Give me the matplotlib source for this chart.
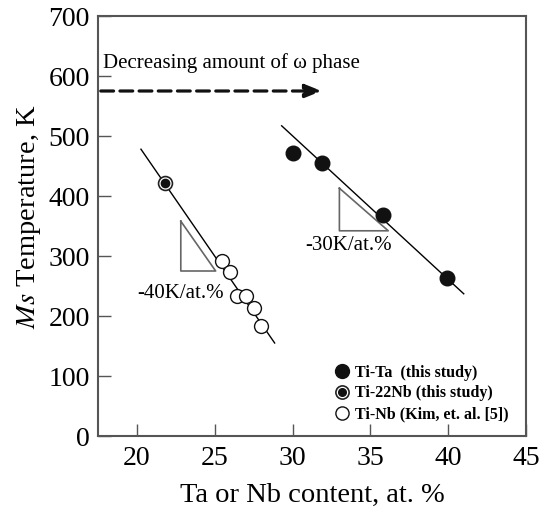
import matplotlib.pyplot as plt
from matplotlib.legend_handler import HandlerTuple
from matplotlib.lines import Line2D

plt.rcParams['font.family'] = ['Liberation Serif', 'DejaVu Serif']
plt.rcParams['mathtext.fontset'] = 'stix'

# data
ta_x = [30.0, 31.9, 35.8, 39.9]
ta_ms = [471, 455, 368, 263]
nb22_x = [21.8]
nb22_ms = [422]
kim_x = [25.45, 25.95, 26.4, 27.0, 27.5, 28.0]
kim_ms = [292, 273, 233, 233, 213, 183]

# fitted lines (end points)
nb_fit_x = [20.26, 28.85]
nb_fit_y = [478, 155]
ta_fit_x = [29.3, 41.0]
ta_fit_y = [517, 237]

# slope triangles
nb_tri_x = [22.82, 22.82, 25.06, 22.82]
nb_tri_y = [358, 275, 275, 358]
ta_tri_x = [33.01, 33.01, 36.15, 33.01]
ta_tri_y = [413, 342, 342, 413]

fig = plt.figure(figsize=(5.48, 5.07), dpi=100)
ax = fig.add_axes([98 / 548, 1 - 436 / 507, 428 / 548, 420 / 507])

ax.plot(nb_fit_x, nb_fit_y, color='black', lw=1.0, zorder=2)
ax.plot(ta_fit_x, ta_fit_y, color='black', lw=1.0, zorder=2)
ax.plot(nb_tri_x, nb_tri_y, color='#666666', lw=1.2, zorder=2)
ax.plot(ta_tri_x, ta_tri_y, color='#666666', lw=1.2, zorder=2)

ax.plot(ta_x, ta_ms, 'o', ms=10.5, mfc='#111111', mec='#111111', zorder=3)
ax.plot(nb22_x, nb22_ms, 'o', ms=10, mfc='white', mec='#222222',
        mew=1.2, zorder=3)
ax.plot(nb22_x, nb22_ms, 'o', ms=6, mfc='#111111', mec='#111111', zorder=4)
ax.plot(kim_x, kim_ms, 'o', ms=10, mfc='white', mec='#111111',
        mew=1.0, zorder=3)

ax.text(20.0, 238, '-40K/at.%', fontsize=15, va='center', ha='left')
ax.text(30.83, 318, '-30K/at.%', fontsize=15, va='center', ha='left')

# dashed arrow
ax.annotate('', xy=(32.05, 575), xytext=(17.5, 575),
            arrowprops=dict(arrowstyle='-|>,head_length=1.0,head_width=0.4',
                            linestyle=(0, (4, 2)), lw=2.3, color='#111111'))
ax.text(17.8, 622, 'Decreasing amount of \u03c9 phase', fontsize=15,
        va='center', ha='left')

leg_ta = Line2D([], [], ls='none', marker='o', ms=10, mfc='#111111', mec='#111111')
leg_o = Line2D([], [], ls='none', marker='o', ms=9.5, mfc='white', mec='#222222',
               mew=1.2)
leg_i = Line2D([], [], ls='none', marker='o', ms=5.5, mfc='#111111', mec='#111111')
leg_kim = Line2D([], [], ls='none', marker='o', ms=9.5, mfc='white', mec='#111111')
ax.legend([leg_ta, (leg_o, leg_i), leg_kim],
          ['Ti-Ta  (this study)', 'Ti-22Nb (this study)', 'Ti-Nb (Kim, et. al. [5])'],
          handler_map={tuple: HandlerTuple(ndivide=1, pad=0)},
          loc='upper left', bbox_to_anchor=(0.54, 0.185), frameon=False,
          prop={'weight': 'bold', 'size': 11.5}, handlelength=0.8,
          handletextpad=0.45, labelspacing=0.3, borderaxespad=0)

ax.set_xlim(17.5, 45)
ax.set_ylim(0, 700)
ax.set_xticks([20, 25, 30, 35, 40, 45])
ax.set_yticks(range(0, 701, 100))
ax.tick_params(direction='in', length=9, width=1.0, color='#555555',
               labelsize=20, pad=6)
ax.tick_params(axis='x', pad=7)
for s in ax.spines.values():
    s.set_color('#555555')
    s.set_linewidth(1.5)

ax.set_xlabel('Ta or Nb content, at. %', fontsize=20.5, labelpad=9)
ax.set_ylabel('$\\mathit{Ms}$ Temperature, K', fontsize=20.5)
ax.yaxis.set_label_coords(-0.128, 0.521)

fig.savefig('out.png', dpi=100)
